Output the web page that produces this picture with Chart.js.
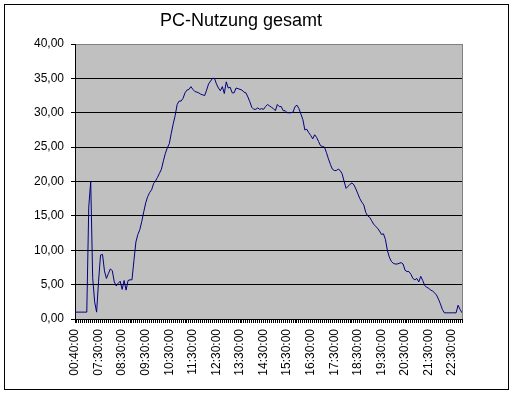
<!DOCTYPE html>
<html><head><meta charset="utf-8">
<script src="https://cdn.jsdelivr.net/npm/chart.js@4/dist/chart.umd.min.js"></script>
<style>html,body{margin:0;padding:0;background:#fff;}canvas{display:block;}</style>
</head><body>
<canvas id="c" width="515" height="396"></canvas>
<script>
const chartTitle = "PC-Nutzung gesamt";

const categories = [
"00:40:00",
"06:35:00","06:40:00","06:45:00","06:50:00","06:55:00","07:00:00","07:05:00","07:10:00","07:15:00","07:20:00","07:25:00",
"07:30:00","07:35:00","07:40:00","07:45:00","07:50:00","07:55:00","08:00:00","08:05:00","08:10:00","08:15:00","08:20:00","08:25:00",
"08:30:00","08:35:00","08:40:00","08:45:00","08:50:00","08:55:00","09:00:00","09:05:00","09:10:00","09:15:00","09:20:00","09:25:00",
"09:30:00","09:35:00","09:40:00","09:45:00","09:50:00","09:55:00","10:00:00","10:05:00","10:10:00","10:15:00","10:20:00","10:25:00",
"10:30:00","10:35:00","10:40:00","10:45:00","10:50:00","10:55:00","11:00:00","11:05:00","11:10:00","11:15:00","11:20:00","11:25:00",
"11:30:00","11:35:00","11:40:00","11:45:00","11:50:00","11:55:00","12:00:00","12:05:00","12:10:00","12:15:00","12:20:00","12:25:00",
"12:30:00","12:35:00","12:40:00","12:45:00","12:50:00","12:55:00","13:00:00","13:05:00","13:10:00","13:15:00","13:20:00","13:25:00",
"13:30:00","13:35:00","13:40:00","13:45:00","13:50:00","13:55:00","14:00:00","14:05:00","14:10:00","14:15:00","14:20:00","14:25:00",
"14:30:00","14:35:00","14:40:00","14:45:00","14:50:00","14:55:00","15:00:00","15:05:00","15:10:00","15:15:00","15:20:00","15:25:00",
"15:30:00","15:35:00","15:40:00","15:45:00","15:50:00","15:55:00","16:00:00","16:05:00","16:10:00","16:15:00","16:20:00","16:25:00",
"16:30:00","16:35:00","16:40:00","16:45:00","16:50:00","16:55:00","17:00:00","17:05:00","17:10:00","17:15:00","17:20:00","17:25:00",
"17:30:00","17:35:00","17:40:00","17:45:00","17:50:00","17:55:00","18:00:00","18:05:00","18:10:00","18:15:00","18:20:00","18:25:00",
"18:30:00","18:35:00","18:40:00","18:45:00","18:50:00","18:55:00","19:00:00","19:05:00","19:10:00","19:15:00","19:20:00","19:25:00",
"19:30:00","19:35:00","19:40:00","19:45:00","19:50:00","19:55:00","20:00:00","20:05:00","20:10:00","20:15:00","20:20:00","20:25:00",
"20:30:00","20:35:00","20:40:00","20:45:00","20:50:00","20:55:00","21:00:00","21:05:00","21:10:00","21:15:00","21:20:00","21:25:00",
"21:30:00","21:35:00","21:40:00","21:45:00","21:50:00","21:55:00","22:00:00","22:05:00","22:10:00","22:15:00","22:20:00","22:25:00",
"22:30:00","22:35:00","22:40:00","22:45:00","22:50:00","22:55:00"
];

const usage = [
1.0,1.0,1.0,1.0,1.0,1.0,1.0,16.3,20.0,6.0,
2.5,1.0,5.5,9.3,9.4,7.0,5.9,6.6,7.3,7.0,
5.4,4.8,5.2,5.5,4.3,5.6,4.2,5.6,5.7,5.7,
8.5,11.2,12.3,13.0,14.2,15.6,16.9,17.8,18.4,18.8,
19.7,20.1,20.6,21.2,21.8,23.0,24.1,24.9,25.5,27.0,
28.4,29.6,31.2,31.7,31.7,32.1,32.9,33.3,33.4,33.8,
33.4,33.1,33.0,32.9,32.7,32.6,32.5,33.3,34.2,34.6,
35.0,35.0,34.2,33.6,33.2,33.8,32.8,34.5,33.6,33.7,
32.9,32.9,33.6,33.5,33.4,33.3,33.0,32.9,32.3,31.6,
30.8,30.5,30.5,30.7,30.5,30.6,30.5,30.9,31.2,31.0,
30.8,30.6,30.3,31.2,30.9,30.9,30.3,30.3,30.0,30.0,
30.0,30.1,30.9,31.1,30.6,29.8,29.0,27.5,27.6,27.1,
26.7,26.2,26.8,26.4,25.8,25.2,25.1,25.0,24.2,23.3,
22.5,21.8,21.6,21.6,21.8,21.6,21.1,20.0,19.0,19.3,
19.6,19.8,19.5,18.9,18.2,17.5,17.0,16.6,15.5,15.0,
14.8,14.3,13.8,13.5,13.2,12.8,12.3,12.4,11.6,10.0,
9.0,8.4,8.1,8.0,8.0,8.1,8.2,8.0,7.1,6.9,
6.9,6.5,5.9,5.7,5.9,5.4,6.2,5.6,4.9,4.6,
4.5,4.2,4.1,3.8,3.5,2.9,2.2,1.4,0.9,0.9,
0.9,0.9,0.9,0.9,0.9,2.0,1.4,0.9
];

const yMin = 0, yMax = 40, yStep = 5;
const labelEvery = 12;

const FONT = '"Liberation Sans", Arial, sans-serif';

const framePlugin = {
  id: 'frame',
  beforeDraw(chart) {
    const {ctx, chartArea: a} = chart;
    ctx.save();
    ctx.fillStyle = '#ffffff';
    ctx.fillRect(0, 0, chart.width, chart.height);
    ctx.fillStyle = '#C0C0C0';
    ctx.fillRect(a.left, a.top, a.right - a.left, a.bottom - a.top);
    ctx.restore();
  },
  afterDraw(chart) {
    const {ctx, chartArea: a} = chart;
    ctx.save();
    ctx.strokeStyle = '#808080';
    ctx.lineWidth = 1;
    ctx.beginPath();
    ctx.moveTo(Math.round(a.right) + 0.5, a.top);
    ctx.lineTo(Math.round(a.right) + 0.5, a.bottom);
    ctx.stroke();
    ctx.strokeStyle = '#000000';
    ctx.strokeRect(4.5, 4.5, 504, 385);
    ctx.fillStyle = '#000000';
    ctx.font = '18px ' + FONT;
    ctx.textAlign = 'center';
    ctx.textBaseline = 'alphabetic';
    ctx.fillText(chartTitle, 241, 26);
    ctx.restore();
  }
};

new Chart(document.getElementById('c'), {
  type: 'line',
  data: {
    labels: categories,
    datasets: [{
      data: usage,
      borderColor: '#000080',
      borderWidth: 1,
      pointRadius: 0,
      tension: 0,
      fill: false
    }]
  },
  options: {
    responsive: false,
    animation: false,
    devicePixelRatio: 1,
    layout: { padding: { left: 0, right: 53, top: 44, bottom: 12 } },
    plugins: { legend: { display: false }, title: { display: false }, tooltip: { enabled: false } },
    scales: {
      x: {
        offset: false,
        afterFit(scale) { scale.height = 65; },
        grid: { display: true, drawOnChartArea: false, drawTicks: true, tickLength: 4, color: '#000', offset: false },
        border: { display: true, color: '#000', width: 1 },
        ticks: {
          autoSkip: false,
          minRotation: 90,
          maxRotation: 90,
          padding: 6,
          color: '#000',
          font: { family: FONT, size: 12 },
          callback(val, idx) { return idx % labelEvery === 0 ? categories[idx] : ''; }
        }
      },
      y: {
        min: yMin,
        max: yMax,
        afterFit(scale) { scale.width = 75; },
        grid: {
          color(ctx) { return ctx.tick && ctx.tick.value === yMax ? '#808080' : '#000'; },
          tickColor: '#000',
          tickLength: 4,
          drawTicks: true
        },
        border: { display: true, color: '#000', width: 1 },
        ticks: {
          stepSize: yStep,
          padding: 7,
          color: '#000',
          font: { family: FONT, size: 12 },
          callback(v) { return v.toFixed(2).replace('.', ','); }
        }
      }
    }
  },
  plugins: [framePlugin]
});
</script>
</body></html>
